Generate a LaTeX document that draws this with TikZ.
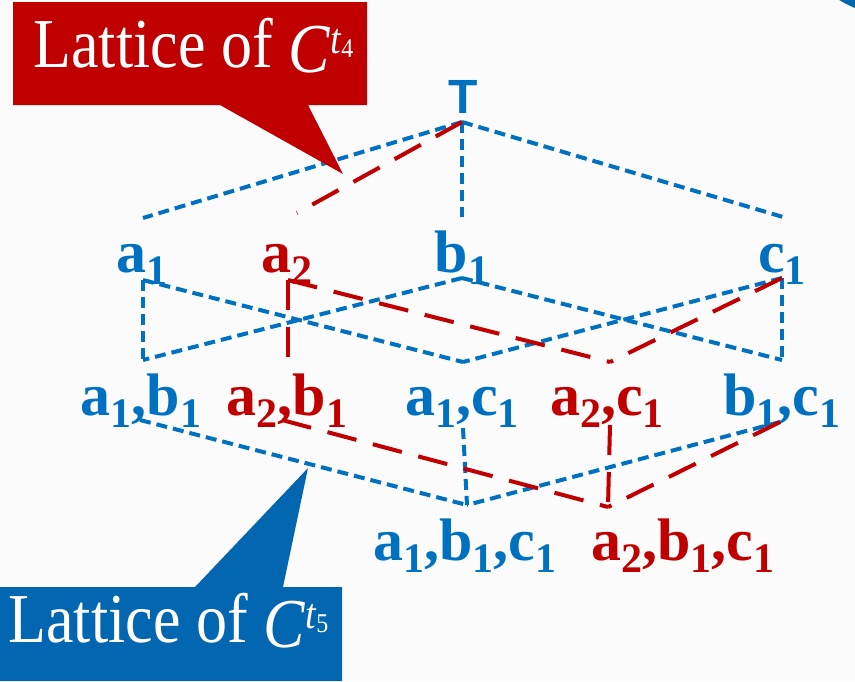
\documentclass[tikz,border=0pt]{standalone}
\usepackage{fontspec}
\setmainfont{Liberation Serif}
\newfontfamily\serfont{Liberation Serif}
\newfontfamily\topfont{Liberation Sans}
\usetikzlibrary{positioning}
\definecolor{colorBlue}{RGB}{0,112,192}
\definecolor{colorRed}{RGB}{192,0,0}
\definecolor{colorBoxBlue}{RGB}{2,102,176}
\definecolor{colorBack}{RGB}{251,251,251}
\newcommand{\lsub}[1]{\raisebox{-6pt}{\fontsize{21}{21}\selectfont #1}}
\newcommand{\capsup}[1]{\raisebox{-2.5pt}{\textit{C}}\raisebox{6pt}{\fontsize{19}{19}\selectfont\textit{t}\raisebox{-2pt}{\fontsize{12}{12}\selectfont #1}}}
\newcommand{\captext}[1]{\scalebox{1}[1.13]{Lattice of \capsup{#1}}}

\begin{document}
\begin{tikzpicture}[
	x=0.5pt, y=-0.5pt,
	lbl/.style={font=\serfont\fontsize{30}{30}\selectfont\bfseries, inner sep=0pt, anchor=base},
	lblA/.style={lbl, text=colorBlue},
	lblB/.style={lbl, text=colorRed},
	edgeA/.style={draw=colorBlue, line width=2pt, dash pattern=on 5.5pt off 3pt},
	edgeB/.style={draw=colorRed, line width=2pt, dash pattern=on 15pt off 8.5pt},
	callout/.style={font=\serfont\fontsize{31}{31}\selectfont, text=white, inner sep=0pt, anchor=base west},
	]

\useasboundingbox (0,0) rectangle (855,681);
\fill[colorBack] (0,0) rectangle (855,681);
\begin{scope}
	\clip (0,0) rectangle (855,681);
	\fill[colorBoxBlue] (900,-100) circle (58.5pt);
\end{scope}

% Beschriftungen
\node[lbl, text=colorBlue, font=\topfont\fontsize{24}{24}\selectfont\bfseries] (top) at (463,113) {T};
\node[lblA] (a1) at (142,272) {a\lsub1};
\node[lblB] (a2) at (287,272) {a\lsub2};
\node[lblA] (b1) at (462,272) {b\lsub1};
\node[lblA] (c1) at (782,272) {c\lsub1};
\node[lblA] (a1b1) at (141,415) {a\lsub1,b\lsub1};
\node[lblB] (a2b1) at (287,415) {a\lsub2,b\lsub1};
\node[lblA] (a1c1) at (462,415) {a\lsub1,c\lsub1};
\node[lblB] (a2c1) at (607,415) {a\lsub2,c\lsub1};
\node[lblA] (b1c1) at (782,415) {b\lsub1,c\lsub1};
\node[lblA] (a1b1c1) at (465,560) {a\lsub1,b\lsub1,c\lsub1};
\node[lblB] (a2b1c1) at (683,560) {a\lsub2,b\lsub1,c\lsub1};

% Knotenpunkte
\coordinate (pT) at (462,122);
\coordinate (pA1t) at (143,218);
\coordinate (pA2t) at (297,213);
\coordinate (pB1t) at (462,217);
\coordinate (pC1t) at (783,217);
\coordinate (pA1b) at (143,280);
\coordinate (pA2b) at (288,280);
\coordinate (pB1b) at (462,278);
\coordinate (pC1b) at (782,278);
\coordinate (pA1B1t) at (143,360);
\coordinate (pA2B1t) at (288,362);
\coordinate (pA1C1t) at (463,362);
\coordinate (pA2C1t) at (610,362);
\coordinate (pB1C1t) at (782,360);
\coordinate (pA1B1b) at (140,420);
\coordinate (pA2B1b) at (282,420);
\coordinate (pA1C1b) at (463,428);
\coordinate (pA2C1b) at (610,425);
\coordinate (pB1C1b) at (780,422);
\coordinate (pA1B1C1) at (467,505);
\coordinate (pA2B1C1) at (608,507);

% Verband von C^t5
\draw[edgeA] (pT) -- (pA1t);
\draw[edgeA] (pT) -- (pB1t);
\draw[edgeA] (pT) -- (pC1t);
\draw[edgeA] (pA1b) -- (pA1B1t);
\draw[edgeA] (pA1b) -- (pA1C1t);
\draw[edgeA] (pB1b) -- (pA1B1t);
\draw[edgeA] (pB1b) -- (pB1C1t);
\draw[edgeA] (pC1b) -- (pA1C1t);
\draw[edgeA] (pC1b) -- (pB1C1t);
\draw[edgeA] (pA1B1b) -- (pA1B1C1);
\draw[edgeA] (pA1C1b) -- (pA1B1C1);
\draw[edgeA] (pB1C1b) -- (pA1B1C1);

% Verband von C^t4
\draw[edgeB] (pT) -- (pA2t);
\draw[edgeB] (pA2b) -- (pA2B1t);
\draw[edgeB] (pA2b) -- (pA2C1t);
\draw[edgeB] (pC1b) -- (pA2C1t);
\draw[edgeB] (pA2B1b) -- (pA2B1C1);
\draw[edgeB] (pA2C1b) -- (pA2B1C1);
\draw[edgeB] (pB1C1b) -- (pA2B1C1);

% Legenden
\fill[colorRed] (13,2) -- (367,2) -- (367,105) -- (308,105) -- (343,174) -- (220,105) -- (13,105) -- cycle;
\node[callout] (capR) at (33,67) {\captext{4}};
\fill[colorBoxBlue] (0,587) -- (195,587) -- (308,468) -- (283,587) -- (342,587) -- (342,681) -- (0,681) -- cycle;
\node[callout] (capB) at (8,642) {\captext{5}};

\end{tikzpicture}
\end{document}
